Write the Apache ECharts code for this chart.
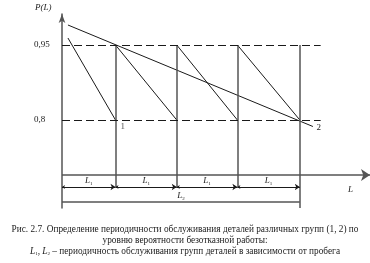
<!DOCTYPE html>
<html><head><meta charset="utf-8">
<script src="https://cdn.jsdelivr.net/npm/echarts@6/dist/echarts.min.js"></script>
<style>html,body{margin:0;padding:0;background:#fff}#c{width:370px;height:263px}</style>
</head><body><div id="c"></div>
<script>
// ---- data ----
const servicePoints = [0, 0.9, 1.93, 2.95, 4.0];   // L positions of service (multiples of L1)
const levels = [0.8, 0.95];                         // probability levels
const levelLabels = ['0,8', '0,95'];
const group1Start = [0.1, 0.964];                   // first group-1 curve start
const group2Line = [[0.1, 0.99], [4.22, 0.787]];    // group-2 curve
const axisBaseP = 0.69;                             // P at the L axis
const yMin = 0.624, yMax = 1.012, xMax = 5.18;
const spanP = 0.666, totalP = 0.636, dashEnd = 4.35;
const caption = [
  'Рис. 2.7. Определение периодичности обслуживания деталей различных групп (1, 2) по',
  'уровню вероятности безотказной работы:',
  ' – периодичность обслуживания групп деталей в зависимости от пробега'
];

const SERIF = '"Liberation Serif","DejaVu Serif",serif';
const ink = '#1a1a1a', axisInk = '#555';
const CAP = 9.3;
const rich = {
  i: {fontFamily: SERIF, fontStyle: 'italic', fontSize: 9, color: ink},
  s: {fontFamily: SERIF, fontSize: 5, color: ink, verticalAlign: 'bottom', padding: [5, 0, 0, 0]}
};

// build segments
const g1 = [{coords: [group1Start, [servicePoints[1], levels[0]]]}];
for (let i = 1; i < 4; i++) g1.push({coords: [[servicePoints[i], levels[1]], [servicePoints[i + 1], levels[0]]]});
const verts = [];
for (let i = 1; i < 5; i++) verts.push({coords: [[servicePoints[i], levels[1]], [servicePoints[i], i === 4 ? yMin : spanP]]});
const dashes = levels.map(v => ({coords: [[0, v], [dashEnd, v]]}));
const spans = [];
for (let i = 0; i < 4; i++) spans.push({coords: [[servicePoints[i], spanP], [servicePoints[i + 1], spanP]]});

const chart = echarts.init(document.getElementById('c'), null, {renderer: 'canvas'});
chart.setOption({
  animation: false,
  grid: {left: 62, right: 0, top: 14, bottom: 55},
  xAxis: {type: 'value', min: 0, max: xMax, show: false},
  yAxis: {
    type: 'value', min: yMin, max: yMax,
    splitLine: {show: false}, axisTick: {show: false},
    axisLine: {show: true, symbol: ['none', 'arrow'], symbolSize: [5, 9], lineStyle: {color: axisInk, width: 1.5}},
    axisLabel: {customValues: levels, formatter: v => levelLabels[levels.indexOf(v)] || '',
      align: 'left', margin: 28, fontFamily: SERIF, fontSize: 9, color: ink}
  },
  series: [
    {type: 'lines', coordinateSystem: 'cartesian2d', silent: true,
      lineStyle: {color: ink, width: 1, opacity: 1}, data: g1},
    {type: 'lines', coordinateSystem: 'cartesian2d', silent: true,
      lineStyle: {color: ink, width: 1, opacity: 1},
      label: {show: true, position: 'end', distance: 4, formatter: '2', fontFamily: SERIF, fontSize: 9, color: ink},
      data: [{coords: group2Line}]},
    {type: 'lines', coordinateSystem: 'cartesian2d', silent: true,
      lineStyle: {color: axisInk, width: 1.5, opacity: 1}, data: verts},
    {type: 'lines', coordinateSystem: 'cartesian2d', silent: true,
      lineStyle: {color: ink, width: 1.2, type: [8, 4], opacity: 1}, data: dashes},
    {type: 'lines', coordinateSystem: 'cartesian2d', silent: true,
      symbol: ['none', 'arrow'], symbolSize: [6, 9],
      lineStyle: {color: axisInk, width: 1.5, opacity: 1},
      data: [{coords: [[0, axisBaseP], [xMax, axisBaseP]]}]},
    {type: 'lines', coordinateSystem: 'cartesian2d', silent: true,
      symbol: ['arrow', 'arrow'], symbolSize: [3, 5],
      lineStyle: {color: ink, width: 1, opacity: 1},
      label: {show: true, position: 'middle', distance: 1, formatter: '{i|L}{s|1}', rich},
      data: spans},
    {type: 'lines', coordinateSystem: 'cartesian2d', silent: true,
      lineStyle: {color: axisInk, width: 1.5, opacity: 1},
      label: {show: true, position: 'middle', distance: 1, formatter: '{i|L}{s|2}', rich},
      data: [{coords: [[0, totalP], [servicePoints[4], totalP]]}]},
    {type: 'scatter', symbolSize: 0, silent: true,
      label: {show: true, position: 'right', distance: 5, offset: [0, 7], formatter: '1', fontFamily: SERIF, fontSize: 9, color: ink},
      data: [[servicePoints[1], levels[0]]]}
  ],
  graphic: [
    {type: 'text', left: 35, top: 3, style: {text: 'P(L)', font: 'italic 9px ' + SERIF, fill: ink}},
    {type: 'text', left: 348, top: 185, style: {text: 'L', font: 'italic 9px ' + SERIF, fill: ink}},
    {type: 'text', left: 'center', top: 225, style: {text: caption[0], font: CAP + 'px ' + SERIF, fill: ink}},
    {type: 'text', left: 'center', top: 236, style: {text: caption[1], font: CAP + 'px ' + SERIF, fill: ink}},
    {type: 'text', left: 'center', top: 247, style: {
      text: '{i|L}{s|1}{n|, }{i|L}{s|2}{n|' + caption[2] + '}',
      rich: {
        i: {fontFamily: SERIF, fontStyle: 'italic', fontSize: CAP, fill: ink},
        s: {fontFamily: SERIF, fontSize: 5, fill: ink, verticalAlign: 'bottom', padding: [4, 0, 0, 0]},
        n: {fontFamily: SERIF, fontSize: CAP, fill: ink}
      }}}
  ]
});
</script></body></html>
